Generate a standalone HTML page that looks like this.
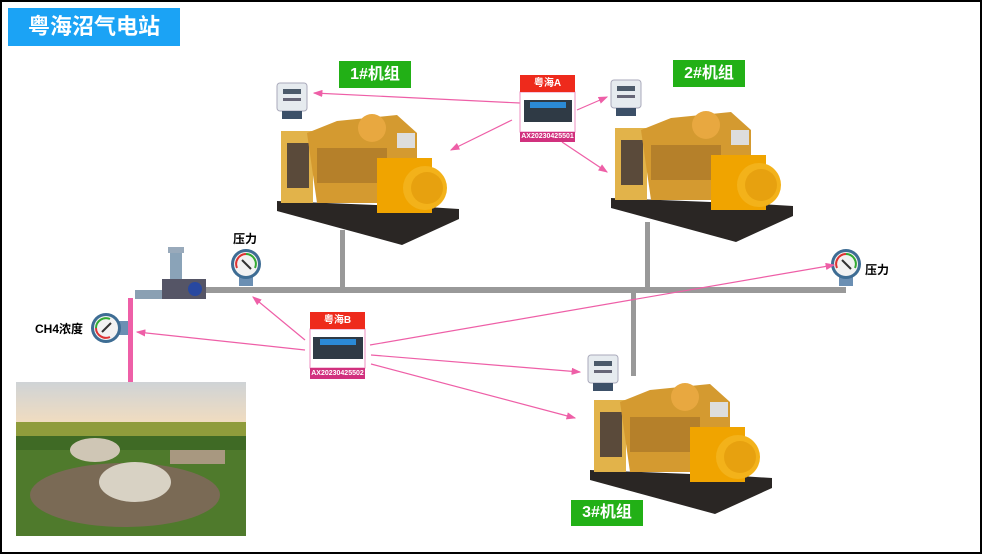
<!DOCTYPE html>
<html><head><meta charset="utf-8"><style>
html,body{margin:0;padding:0;}
body{width:982px;height:554px;overflow:hidden;background:#fff;font-family:"Liberation Sans","Noto Sans CJK SC",sans-serif;}
#f{position:absolute;left:0;top:0;width:978px;height:550px;border:2px solid #000;background:#fff;}
.a{position:absolute;}
.lab{position:absolute;color:#fff;font-weight:bold;text-align:center;}
</style></head><body>
<div id="f"></div>
<svg class="a" style="left:0;top:0" width="982" height="554" xmlns="http://www.w3.org/2000/svg">
<defs>
<marker id="ar" markerWidth="8" markerHeight="6" refX="7" refY="3" orient="auto"><path d="M0,0 L8,3 L0,6 z" fill="#ee5fa7"/></marker>
<linearGradient id="sky" x1="0" y1="0" x2="0" y2="1"><stop offset="0" stop-color="#cfd3d6"/><stop offset="1" stop-color="#f0dcc0"/></linearGradient>
<g id="gen">
<polygon points="0,98 150,104 182,106 182,116 125,142 0,108" fill="#2a2624"/>
<rect x="4" y="28" width="32" height="72" fill="#e2b34a"/>
<rect x="10" y="40" width="22" height="45" fill="#5a4a3a"/>
<polygon points="30,30 60,18 120,12 140,30 140,100 40,100" fill="#d49a30"/>
<rect x="40" y="45" width="70" height="35" fill="#b5802a"/>
<circle cx="95" cy="25" r="14" fill="#e8a840"/>
<rect x="100" y="55" width="55" height="55" fill="#f0a400"/>
<circle cx="148" cy="85" r="22" fill="#f3b21a"/>
<circle cx="150" cy="85" r="16" fill="#e7a10f"/>
<rect x="120" y="30" width="18" height="15" fill="#ddd"/>
</g>
<g id="meter">
<rect x="0" y="0" width="30" height="28" rx="3" fill="#e6ebef" stroke="#aab" stroke-width="1"/>
<rect x="6" y="6" width="18" height="5" fill="#4b5a6a"/>
<rect x="6" y="15" width="18" height="3" fill="#667"/>
<rect x="5" y="28" width="20" height="8" fill="#3c5068"/>
</g>
<g id="gauge">
<rect x="-7" y="10" width="14" height="12" fill="#6b8fb3"/>
<circle r="15" fill="#3e6d94"/><circle r="12" fill="#f2f2f2"/>
<path d="M-9,4 A10,10 0 0 1 0,-10" stroke="#d33" stroke-width="2" fill="none"/>
<path d="M0,-10 A10,10 0 0 1 9,4" stroke="#3a3" stroke-width="2" fill="none"/>
<line x1="-4" y1="-4" x2="5" y2="5" stroke="#333" stroke-width="2"/>
</g>
</defs>
<rect x="203" y="287" width="643" height="6" fill="#999"/>
<rect x="340" y="230" width="5" height="60" fill="#999"/>
<rect x="645" y="222" width="5" height="68" fill="#999"/>
<rect x="631" y="290" width="5" height="86" fill="#999"/>
<rect x="128" y="298" width="5" height="106" fill="#ee5fa7"/>
<use href="#gen" transform="translate(277,103)"/>
<use href="#gen" transform="translate(611,100)"/>
<use href="#gen" transform="translate(590,372)"/>
<use href="#meter" transform="translate(277,83)"/>
<use href="#meter" transform="translate(611,80)"/>
<use href="#meter" transform="translate(588,355)"/>
<use href="#gauge" transform="translate(246,264)"/>
<use href="#gauge" transform="translate(846,264)"/>
<use href="#gauge" transform="translate(106,328) rotate(-90)"/>
<rect x="170" y="250" width="12" height="30" fill="#8aa3b8"/>
<rect x="168" y="247" width="16" height="6" fill="#9ab"/>
<rect x="135" y="290" width="35" height="9" fill="#8aa0b3"/>
<rect x="162" y="279" width="44" height="20" fill="#556"/>
<circle cx="195" cy="289" r="7" fill="#2848a0"/>
<rect x="16" y="382" width="230" height="154" fill="#4f7a2c"/>
<rect x="16" y="382" width="230" height="40" fill="url(#sky)"/>
<rect x="16" y="422" width="230" height="18" fill="#8f9c3c"/>
<rect x="16" y="436" width="230" height="14" fill="#3f6a25"/>
<ellipse cx="125" cy="495" rx="95" ry="32" fill="#7a6a55"/>
<ellipse cx="95" cy="450" rx="25" ry="12" fill="#cfc6b5"/>
<ellipse cx="135" cy="482" rx="36" ry="20" fill="#d8d2c4"/>
<rect x="170" y="450" width="55" height="14" fill="#a89880"/>
<g stroke="#ee5fa7" stroke-width="1.2" fill="none" marker-end="url(#ar)">
<line x1="520" y1="103" x2="314" y2="93"/>
<line x1="512" y1="120" x2="451" y2="150"/>
<line x1="577" y1="110" x2="607" y2="97"/>
<line x1="562" y1="142" x2="607" y2="172"/>
<line x1="305" y1="350" x2="137" y2="332"/>
<line x1="305" y1="340" x2="253" y2="297"/>
<line x1="370" y1="345" x2="834" y2="265"/>
<line x1="371" y1="355" x2="580" y2="372"/>
<line x1="371" y1="364" x2="575" y2="418"/>
</g>
<rect x="520" y="92" width="55" height="40" fill="#fff" stroke="#ee8fc0"/>
<rect x="524" y="100" width="48" height="22" fill="#2f3a45"/>
<rect x="530" y="102" width="36" height="6" fill="#2b8ad6"/>
<rect x="310" y="329" width="55" height="39" fill="#fff" stroke="#ee8fc0"/>
<rect x="313" y="337" width="50" height="22" fill="#2f3a45"/>
<rect x="320" y="339" width="36" height="6" fill="#2b8ad6"/>
</svg>
<div class="lab" style="left:8px;top:8px;width:172px;height:38px;background:#1ba3f5;font-size:22px;line-height:38px;">粤海沼气电站</div>
<div class="lab" style="left:339px;top:61px;width:72px;height:27px;background:#22b016;font-size:16px;line-height:27px;">1#机组</div>
<div class="lab" style="left:673px;top:60px;width:72px;height:27px;background:#22b016;font-size:16px;line-height:27px;">2#机组</div>
<div class="lab" style="left:571px;top:500px;width:72px;height:26px;background:#22b016;font-size:16px;line-height:26px;">3#机组</div>
<div class="lab" style="left:520px;top:75px;width:55px;height:17px;background:#ee2a1c;font-size:10px;line-height:17px;">粤海A</div>
<div class="lab" style="left:520px;top:132px;width:55px;height:10px;background:#d1317e;font-size:7px;line-height:10px;">AX20230425501</div>
<div class="lab" style="left:310px;top:312px;width:55px;height:17px;background:#ee2a1c;font-size:10px;line-height:17px;">粤海B</div>
<div class="lab" style="left:310px;top:368px;width:55px;height:11px;background:#d1317e;font-size:7px;line-height:11px;">AX20230425502</div>
<div class="a" style="left:233px;top:230px;font-size:12px;font-weight:bold;">压力</div>
<div class="a" style="left:865px;top:261px;font-size:12px;font-weight:bold;">压力</div>
<div class="a" style="left:35px;top:320px;font-size:12px;font-weight:bold;">CH4浓度</div>
</body></html>
